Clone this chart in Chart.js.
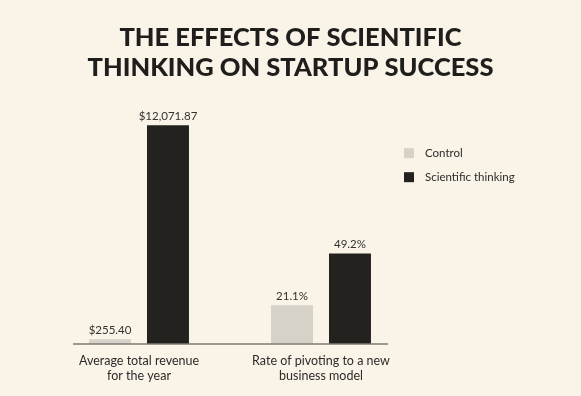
<!DOCTYPE html>
<html>
<head>
<meta charset="utf-8">
<script src="https://cdn.jsdelivr.net/npm/chart.js@4.4.1/dist/chart.umd.min.js"></script>
<style>
  html, body { margin: 0; padding: 0; background: #f9f3e8; }
  #wrap { width: 581px; height: 396px; position: relative; }
</style>
</head>
<body>
<div id="wrap"><canvas id="effectsChart"></canvas></div>
<script>
const categories = [['Average total revenue', 'for the year'], ['Rate of pivoting to a new', 'business model']];
const seriesNames = ['Control', 'Scientific thinking'];
const revenue = [255.40, 12071.87];   // control, scientific thinking
const pivotRate = [21.1, 49.2];       // %
const seriesColors = ['#d6d2c8', '#23221e'];

const fmtMoney = v => '$' + v.toLocaleString('en-US', { minimumFractionDigits: 2, maximumFractionDigits: 2 });
const fmtPct = v => v.toFixed(1) + '%';

const datasets = [];
seriesNames.forEach((name, i) => {
    datasets.push({
        label: name, data: [revenue[i], null], yAxisID: 'yRev',
        backgroundColor: seriesColors[i], fmt: fmtMoney, legendRow: i
    });
});
seriesNames.forEach((name, i) => {
    datasets.push({
        label: name, data: [null, pivotRate[i]], yAxisID: 'yPct',
        backgroundColor: seriesColors[i], fmt: fmtPct
    });
});

const textFont = 'Lato, "Open Sans", sans-serif';

const valueLabels = {
    id: 'valueLabels',
    afterDatasetsDraw(chart) {
        const ctx = chart.ctx;
        ctx.save();
        ctx.font = '11.5px ' + textFont;
        ctx.fillStyle = '#33322f';
        ctx.textAlign = 'center';
        ctx.textBaseline = 'middle';
        chart.data.datasets.forEach((ds, di) => {
            chart.getDatasetMeta(di).data.forEach((bar, j) => {
                const v = ds.data[j];
                if (v == null) return;
                ctx.fillText(ds.fmt(v), bar.x, bar.y - 9);
            });
        });
        ctx.restore();
    }
};

// baseline running a bar-gap past the outer bars
const baseline = {
    id: 'baseline',
    afterDatasetsDraw(chart) {
        let minX = Infinity, maxX = -Infinity, gap = 16;
        chart.data.datasets.forEach((ds, di) => {
            chart.getDatasetMeta(di).data.forEach((bar, j) => {
                if (ds.data[j] == null) return;
                minX = Math.min(minX, bar.x - bar.width / 2);
                maxX = Math.max(maxX, bar.x + bar.width / 2);
            });
        });
        const y = chart.scales.yRev.getPixelForValue(0);
        const ctx = chart.ctx;
        ctx.save();
        ctx.strokeStyle = '#7d7b76';
        ctx.lineWidth = 1.5;
        ctx.beginPath();
        ctx.moveTo(minX - gap, y);
        ctx.lineTo(maxX + gap + 1, y);
        ctx.stroke();
        ctx.restore();
    }
};

const sideLegend = {
    id: 'sideLegend',
    afterDraw(chart) {
        const ctx = chart.ctx;
        const area = chart.chartArea;
        const x = area.right - 8;
        let y = area.top + 43;
        ctx.save();
        ctx.font = '11.5px ' + textFont;
        ctx.textBaseline = 'middle';
        chart.data.datasets.filter(ds => ds.legendRow != null).forEach(ds => {
            ctx.fillStyle = ds.backgroundColor;
            ctx.fillRect(x, y - 5, 10, 10);
            ctx.fillStyle = '#2c2b28';
            ctx.fillText(ds.label, x + 21, y);
            y += 24;
        });
        ctx.restore();
    }
};

const hiddenAxis = (pos, max, width) => ({
    display: true,
    position: pos,
    min: 0,
    max: max,
    grid: { display: false },
    border: { display: false },
    ticks: { display: false },
    afterFit(scale) { scale.width = width; }
});

new Chart(document.getElementById('effectsChart'), {
    type: 'bar',
    data: { labels: categories, datasets: datasets },
    plugins: [valueLabels, baseline, sideLegend],
    options: {
        responsive: true,
        maintainAspectRatio: false,
        animation: false,
        layout: { padding: { left: 0, right: 0, top: 0, bottom: 12 } },
        datasets: {
            bar: { skipNull: true, categoryPercentage: 0.637, barPercentage: 0.724 }
        },
        plugins: {
            legend: { display: false },
            tooltip: { enabled: false },
            title: {
                display: true,
                text: ['THE EFFECTS OF SCIENTIFIC', 'THINKING ON STARTUP SUCCESS'],
                color: '#1f1e1c',
                font: { family: textFont, size: 25.5, weight: '900', lineHeight: 1.18 },
                padding: { top: 23, bottom: 27 }
            }
        },
        scales: {
            x: {
                grid: { display: false },
                border: { display: false },
                ticks: {
                    color: '#2c2b28',
                    padding: 1,
                    font: { family: textFont, size: 12.5, lineHeight: 1.2 }
                }
            },
            yRev: hiddenAxis('left', 12900, 48),
            yPct: hiddenAxis('right', 127, 169)
        }
    }
});
</script>
</body>
</html>
